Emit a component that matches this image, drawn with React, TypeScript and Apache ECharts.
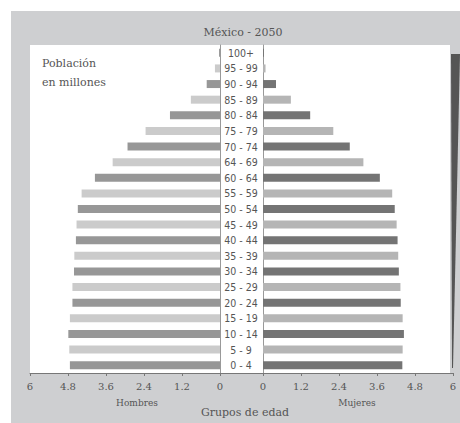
import React, { useEffect, useRef } from "react";
import * as echarts from "echarts";

const categories = ["0 - 4","5 - 9","10 - 14","15 - 19","20 - 24","25 - 29","30 - 34","35 - 39","40 - 44","45 - 49","50 - 54","55 - 59","60 - 64","64 - 69","70 - 74","75 - 79","80 - 84","85 - 89","90 - 94","95 - 99","100+"];
const hombres = [4.74,4.76,4.79,4.74,4.66,4.66,4.61,4.6,4.55,4.53,4.49,4.37,3.95,3.39,2.92,2.35,1.58,0.92,0.42,0.16,0.03];
const mujeres = [4.4,4.41,4.45,4.41,4.35,4.34,4.29,4.27,4.25,4.22,4.16,4.08,3.69,3.17,2.74,2.22,1.49,0.88,0.41,0.08,0.03];
const xTicks = { min: 0, max: 6, interval: 1.2 };

const SERIF = "'DejaVu Serif', 'Liberation Serif', serif";
const COND = "'DejaVu Sans Condensed', 'Liberation Sans Narrow', 'DejaVu Sans', sans-serif";
const TXT = "#555555";

export default function App() {
  const ref = useRef<HTMLDivElement>(null);
  useEffect(() => {
    const chart = echarts.init(ref.current!, null, { renderer: "svg" });
    const fmt = (v: number) => String(Math.round(v * 10) / 10);
    const xAxisCommon = {
      type: "value",
      min: xTicks.min,
      max: xTicks.max,
      interval: xTicks.interval,
      splitLine: { show: false },
      axisLine: { show: true, lineStyle: { color: "#777", width: 1 } },
      axisTick: { show: true, length: 3, lineStyle: { color: "#777" } },
      axisLabel: { color: TXT, fontFamily: SERIF, fontSize: 10, margin: 8, formatter: fmt },
    };
    chart.setOption({
      animation: false,
      backgroundColor: "#ffffff",
      graphic: [
        { type: "rect", z: -10, shape: { x: 11, y: 11, width: 449, height: 412 }, style: { fill: "#cecfd1" } },
        { type: "rect", z: -9, shape: { x: 30, y: 45, width: 420, height: 328 }, style: { fill: "#ffffff" } },
        { type: "polygon", z: -8, shape: { points: [[451, 54], [460, 54], [453, 368], [452, 368]] }, style: { fill: "#555555" } },
        { type: "line", z: -1, shape: { x1: 220, y1: 373.5, x2: 263, y2: 373.5 }, style: { stroke: "#777", lineWidth: 1 } },
        { type: "text", x: 243, y: 32, style: { text: "México - 2050", font: `11px ${SERIF}`, fill: TXT, align: "center", verticalAlign: "middle" } },
        { type: "text", x: 42, y: 54, style: { text: "Población\nen millones", font: `11px ${SERIF}`, fill: TXT, lineHeight: 19 } },
        { type: "text", x: 137, y: 403, style: { text: "Hombres", font: `9px ${SERIF}`, fill: TXT, align: "center", verticalAlign: "middle" } },
        { type: "text", x: 357, y: 403, style: { text: "Mujeres", font: `9px ${SERIF}`, fill: TXT, align: "center", verticalAlign: "middle" } },
        { type: "text", x: 245, y: 412, style: { text: "Grupos de edad", font: `11px ${SERIF}`, fill: TXT, align: "center", verticalAlign: "middle" } },
      ],
      grid: [
        { left: 30, width: 190, top: 45, height: 328 },
        { left: 263, width: 190, top: 45, height: 328 },
      ],
      xAxis: [
        { ...xAxisCommon, gridIndex: 0, inverse: true },
        { ...xAxisCommon, gridIndex: 1 },
      ],
      yAxis: [
        {
          type: "category", gridIndex: 0, data: categories, position: "right",
          axisLine: { show: true, lineStyle: { color: "#999" } },
          axisTick: { show: false },
          axisLabel: { show: true, align: "center", margin: 21, color: TXT, fontFamily: COND, fontSize: 10.5 },
        },
        {
          type: "category", gridIndex: 1, data: categories, position: "left",
          axisLine: { show: true, lineStyle: { color: "#999" } },
          axisTick: { show: false },
          axisLabel: { show: false },
        },
      ],
      series: [
        {
          type: "bar", xAxisIndex: 0, yAxisIndex: 0, barWidth: 8,
          data: hombres.map((v, i) => ({ value: v, itemStyle: { color: i % 2 === 0 ? "#979797" : "#cbcbcb" } })),
        },
        {
          type: "bar", xAxisIndex: 1, yAxisIndex: 1, barWidth: 8,
          data: mujeres.map((v, i) => ({ value: v, itemStyle: { color: i % 2 === 0 ? "#747474" : "#b5b5b5" } })),
        },
      ],
    });
    return () => chart.dispose();
  }, []);
  return <div ref={ref} style={{ position: "fixed", left: 0, top: 0, width: 460, height: 423 }} />;
}
